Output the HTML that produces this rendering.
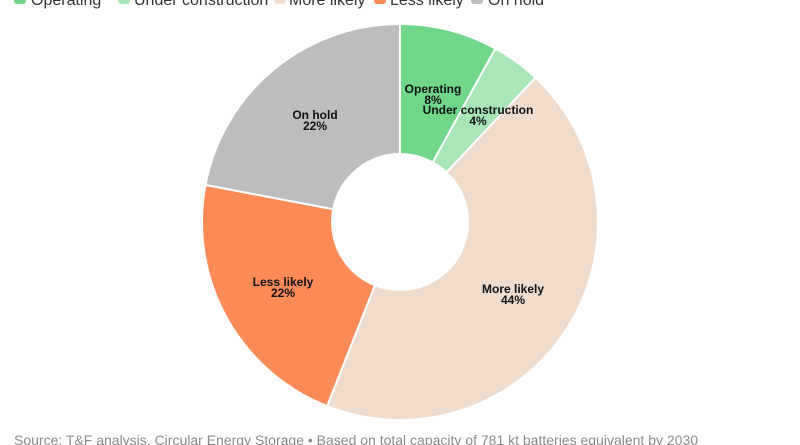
<!DOCTYPE html>
<html><head><meta charset="utf-8"><style>
html,body{margin:0;padding:0;background:#fff;width:800px;height:445px;overflow:hidden;font-family:"Liberation Sans",sans-serif}
</style></head><body>
<svg id="s" width="800" height="445" viewBox="0 0 800 445" xmlns="http://www.w3.org/2000/svg" font-family="Liberation Sans, sans-serif">
<g font-size="16" fill="#333">
<rect x="14" y="-6" width="12" height="10" rx="3" fill="#6fd68a"/><text x="31" y="5">Operating</text>
<rect x="118" y="-6" width="12" height="10" rx="3" fill="#a8e6b8"/><text x="134" y="5">Under construction</text>
<rect x="274" y="-6" width="12" height="10" rx="3" fill="#f0dccd"/><text x="289" y="5">More likely</text>
<rect x="374" y="-6" width="12" height="10" rx="3" fill="#fe8a58"/><text x="390" y="5">Less likely</text>
<rect x="471" y="-6" width="12" height="10" rx="3" fill="#bdbdbd"/><text x="488" y="5">On hold</text>
</g>
<g id="pie"></g>
<g font-size="12" font-weight="bold" fill="#111" text-anchor="middle">
<text x="433" y="93">Operating</text><text x="433" y="104">8%</text>
<text x="478" y="114">Under construction</text><text x="478" y="125">4%</text>
<text x="513" y="293">More likely</text><text x="513" y="304">44%</text>
<text x="283" y="286">Less likely</text><text x="283" y="297">22%</text>
<text x="315" y="119">On hold</text><text x="315" y="130">22%</text>
</g>
<text x="14" y="445" font-size="14" fill="#8a8a8a">Source: T&amp;F analysis, Circular Energy Storage • Based on total capacity of 781 kt batteries equivalent by 2030</text>
</svg>
<script>
var d=[[8,"#6fd68a"],[4,"#a8e6b8"],[44,"#f0dccd"],[22,"#fe8a58"],[22,"#bdbdbd"]];
var cx=400,cy=222,R=198,r=68,a=0,g=document.getElementById("pie"),h="";
function p(rad,ang){return (cx+rad*Math.sin(ang)).toFixed(2)+","+(cy-rad*Math.cos(ang)).toFixed(2);}
d.forEach(function(s){var b=a+s[0]/100*2*Math.PI,l=(b-a)>Math.PI?1:0;
h+='<path d="M'+p(R,a)+' A'+R+','+R+' 0 '+l+' 1 '+p(R,b)+' L'+p(r,b)+' A'+r+','+r+' 0 '+l+' 0 '+p(r,a)+' Z" fill="'+s[1]+'" stroke="#fff" stroke-width="2"/>';a=b;});
g.innerHTML=h;
</script>
</body></html>
